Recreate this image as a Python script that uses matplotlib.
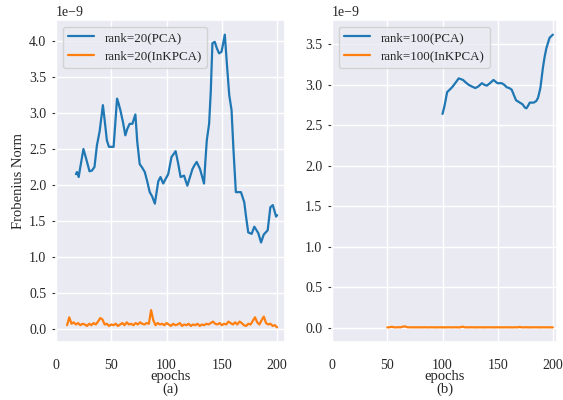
import numpy as np
import matplotlib
matplotlib.use("Agg")
import matplotlib.pyplot as plt
import seaborn as sns

# rank=20, PCA (units of 1e-9)
pca20_x = [18, 19, 20.5, 22, 24.8, 27, 30.3, 32.5, 34.8, 37, 39.5, 42.4, 44, 46, 47.9, 50,
           52.1, 55.2, 56.5, 58.2, 60.5, 62.7, 64.5, 66.6, 69.1, 71.8, 73.5, 75.7, 78, 80.3,
           82.5, 84.8, 87, 89.4, 91, 92.5, 94.5, 97, 99, 101.5, 104.5, 106, 108.2, 110.5,
           112.7, 115.8, 118.8, 121, 123.4, 125.5, 127.3, 130.3, 133.9, 135, 136.4, 138.5,
           140, 141.5, 143.6, 145.5, 147.5, 149.7, 151, 152.7, 154.5, 156.7, 158.8, 160.5,
           162.7, 165.7, 167.3, 170.3, 172, 173.9, 177, 179.4, 181, 183, 185.5, 187.9, 191.5,
           193.9, 196.1, 198, 199.1, 200]
pca20_y = [2.15, 2.18, 2.11, 2.25, 2.50, 2.38, 2.19, 2.20, 2.25, 2.55, 2.75, 3.11, 2.90, 2.62,
           2.53, 2.53, 2.53, 3.20, 3.14, 3.04, 2.88, 2.69, 2.78, 2.85, 2.85, 2.98, 2.60, 2.29,
           2.24, 2.18, 2.05, 1.90, 1.84, 1.74, 1.90, 2.05, 2.11, 2.02, 2.08, 2.15, 2.39, 2.42,
           2.47, 2.30, 2.11, 2.13, 1.99, 2.10, 2.22, 2.28, 2.32, 2.22, 2.02, 2.30, 2.62, 2.85,
           3.30, 3.97, 3.99, 3.90, 3.83, 3.85, 3.95, 4.09, 3.70, 3.25, 3.04, 2.50, 1.90, 1.90,
           1.90, 1.76, 1.55, 1.34, 1.32, 1.42, 1.38, 1.33, 1.20, 1.31, 1.37, 1.69, 1.72, 1.62,
           1.56, 1.58]

# rank=20, InKPCA, epochs 10..200 step 2
inkpca20_x = np.arange(10, 201, 2)
inkpca20_y = [0.05, 0.16, 0.07, 0.09, 0.06, 0.08, 0.05, 0.07, 0.06, 0.04, 0.07, 0.05, 0.08, 0.06,
              0.10, 0.15, 0.13, 0.06, 0.07, 0.04, 0.06, 0.05, 0.07, 0.04, 0.06, 0.08, 0.05, 0.09,
              0.06, 0.07, 0.05, 0.08, 0.06, 0.09, 0.07, 0.06, 0.08, 0.07, 0.26, 0.12, 0.05, 0.08,
              0.06, 0.07, 0.05, 0.08, 0.06, 0.04, 0.07, 0.05, 0.06, 0.08, 0.04, 0.06, 0.05, 0.07,
              0.04, 0.06, 0.05, 0.07, 0.04, 0.06, 0.05, 0.07, 0.06, 0.08, 0.10, 0.07, 0.06, 0.08,
              0.05, 0.07, 0.06, 0.10, 0.08, 0.06, 0.09, 0.06, 0.10, 0.08, 0.05, 0.04, 0.07, 0.06,
              0.11, 0.16, 0.09, 0.06, 0.12, 0.17, 0.08, 0.06, 0.07, 0.04, 0.05, 0.02]

# rank=100, PCA
pca100_x = [100, 101.5, 102.7, 104.2, 106.5, 108.7, 111.5, 114.7, 118.6, 121, 123.7, 126.5,
            129.7, 132.5, 135.7, 138, 140.2, 143, 146.2, 149.8, 153.7, 156, 158.2, 160.5,
            162.7, 164.2, 166.6, 170.1, 172.5, 174.6, 176.1, 177.5, 179.1, 182.7, 185, 186.6,
            188.7, 191, 192.5, 194.1, 197, 200]
pca100_y = [2.64, 2.72, 2.80, 2.91, 2.94, 2.97, 3.02, 3.08, 3.06, 3.03, 3.00, 2.98, 2.96, 2.98,
            3.02, 3.00, 2.99, 3.02, 3.06, 3.02, 3.02, 3.00, 2.97, 2.96, 2.94, 2.89, 2.81, 2.78,
            2.76, 2.72, 2.71, 2.74, 2.78, 2.78, 2.80, 2.84, 2.96, 3.21, 3.34, 3.45, 3.58, 3.62]

# rank=100, InKPCA, epochs 50..200 step 2
inkpca100_x = np.arange(50, 201, 2)
inkpca100_y = [0.003, 0.004, 0.010, 0.004, 0.003, 0.005, 0.003, 0.012, 0.015, 0.005, 0.003,
               0.004, 0.003, 0.003, 0.004, 0.003, 0.003, 0.004, 0.003, 0.003, 0.004, 0.003,
               0.003, 0.003, 0.004, 0.003, 0.003, 0.003, 0.004, 0.003, 0.003, 0.004, 0.003,
               0.003, 0.012, 0.004, 0.003, 0.003, 0.004, 0.003, 0.003, 0.003, 0.004, 0.003,
               0.003, 0.003, 0.004, 0.003, 0.003, 0.003, 0.004, 0.003, 0.003, 0.003, 0.004,
               0.003, 0.003, 0.003, 0.004, 0.003, 0.008, 0.003, 0.003, 0.004, 0.003, 0.003,
               0.003, 0.004, 0.003, 0.003, 0.003, 0.004, 0.003, 0.003, 0.003, 0.003]

sns.set_theme(style='darkgrid')
plt.rcParams['font.family'] = ['Liberation Serif', 'DejaVu Serif']

fig = plt.figure(figsize=(5.63, 4), dpi=100)
ax1 = fig.add_axes([0.0995, 0.145, 0.407, 0.805])
ax2 = fig.add_axes([0.590, 0.145, 0.399, 0.805])

ax1.plot(pca20_x, np.array(pca20_y) * 1e-9, color='#1f77b4', lw=1.6, label='rank=20(PCA)')
ax1.plot(inkpca20_x, np.array(inkpca20_y) * 1e-9, color='#ff7f0e', lw=1.6, label='rank=20(InKPCA)')
ax2.plot(pca100_x, np.array(pca100_y) * 1e-9, color='#1f77b4', lw=1.6, label='rank=100(PCA)')
ax2.plot(inkpca100_x, np.array(inkpca100_y) * 1e-9, color='#ff7f0e', lw=1.6, label='rank=100(InKPCA)')

ax1.set_xlim(0, 207.3)
ax2.set_xlim(0, 203.6)

for ax, tag in [(ax1, '(a)'), (ax2, '(b)')]:
    ax.set_xticks([0, 50, 100, 150, 200])
    ax.tick_params(axis='x', labelsize=10, pad=12, length=0)
    ax.tick_params(axis='y', labelsize=10, left=True, length=3, width=0.8, color='#333333', pad=4)
    ax.yaxis.get_offset_text().set_fontsize(10)
    ax.set_xlabel('epochs\n' + tag, fontsize=10.5, linespacing=0.9, labelpad=-1)
    ax.legend(loc='upper left', fontsize=9.4)

ax1.set_ylabel('Frobenius Norm', fontsize=10.5, labelpad=3)

fig.savefig('out.png', dpi=100)
